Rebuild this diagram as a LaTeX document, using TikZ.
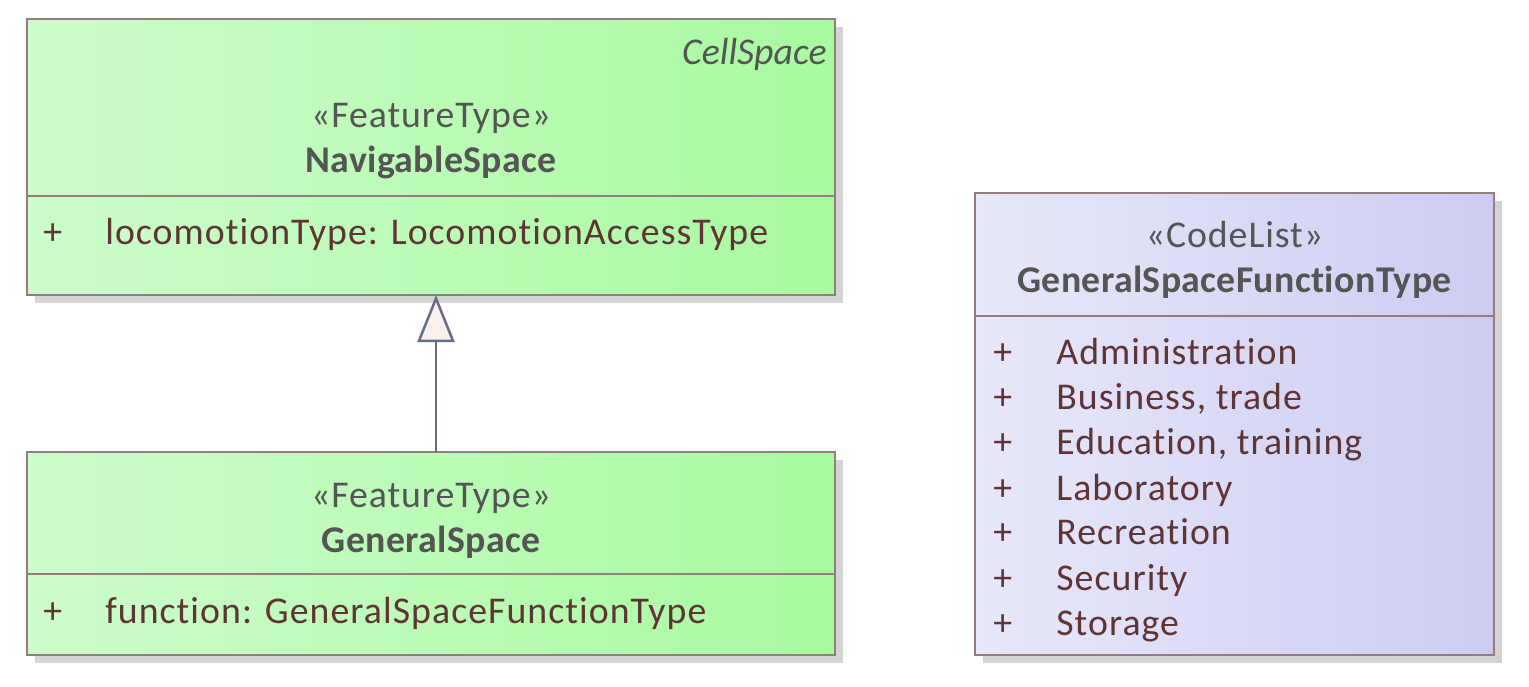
\documentclass[tikz,border=0pt]{standalone}
\usepackage{fontspec}
\setmainfont{Carlito}[Ligatures=NoCommon]
\usetikzlibrary{arrows.meta,shadows}

\begin{document}
\begin{tikzpicture}[x=0.2mm,y=-0.2mm,
  box/.style={draw=rahmen,line width=0.45mm,inner sep=0,outer sep=0,anchor=north west,
    drop shadow={shadow xshift=1.6mm,shadow yshift=-1.6mm,fill=schatten,opacity=1}},
  gruenbox/.style={box,left color=hellgruen,right color=gruen},
  lilabox/.style={box,left color=helllila,right color=lila},
  stereo/.style={text=titelgrau,anchor=base,inner sep=0,font=\fontsize{21.5}{25}\selectfont\addfontfeature{LetterSpace=2.5}},
  titel/.style={stereo,font=\fontsize{21.5}{25}\selectfont\bfseries\addfontfeature{LetterSpace=1}},
  attr/.style={text=attrbraun,anchor=base west,inner sep=0,font=\fontsize{21.5}{25}\selectfont\addfontfeature{LetterSpace=2.8}},
  trenn/.style={draw=rahmen,line width=0.45mm}]

\definecolor{hellgruen}{RGB}{206,252,204}
\definecolor{gruen}{RGB}{168,250,160}
\definecolor{helllila}{RGB}{232,232,250}
\definecolor{lila}{RGB}{204,204,242}
\definecolor{rahmen}{RGB}{150,125,125}
\definecolor{schatten}{RGB}{212,212,212}
\definecolor{titelgrau}{RGB}{85,85,85}
\definecolor{attrbraun}{RGB}{95,52,52}
\definecolor{pfeil}{RGB}{100,110,140}
\definecolor{spitze}{RGB}{250,240,235}

\useasboundingbox (0,0) rectangle (1529,687);

\node[gruenbox,minimum width=161.6mm,minimum height=55.2mm] (nav) at (27,19) {};
\node[gruenbox,minimum width=161.6mm,minimum height=40.6mm] (gen) at (27,452) {};
\node[lilabox,minimum width=103.8mm,minimum height=92.4mm] (code) at (975,193) {};

\draw[trenn] (nav.west |- 0,196) -- (nav.east |- 0,196);
\draw[trenn] (gen.west |- 0,574) -- (gen.east |- 0,574);
\draw[trenn] (code.west |- 0,316) -- (code.east |- 0,316);

\draw[pfeil,line width=0.5mm,-{Triangle[length=9.4mm,width=7.4mm,fill=spitze]}] ([xshift=1mm]gen.north) -- ([xshift=1mm]nav.south);

\node[stereo,anchor=base east,font=\fontsize{21.5}{25}\selectfont\itshape] (navabs) at (827,65) {CellSpace};
\node[stereo] (navst) at (nav.center |- 0,128) {«FeatureType»};
\node[titel] (navname) at (nav.center |- 0,173) {NavigableSpace};
\node[attr] (navplus) at (43,245) {+};
\node[attr] (navattr) at (105,245) {locomotionType: LocomotionAccessType};

\node[stereo] (genst) at (gen.center |- 0,508) {«FeatureType»};
\node[titel] (genname) at (gen.center |- 0,552) {GeneralSpace};
\node[attr] (genplus) at (43,623) {+};
\node[attr] (genattr) at (105,623) {function: GeneralSpaceFunctionType};

\node[stereo] (codest) at (code.center |- 0,248) {«CodeList»};
\node[titel] (codename) at (code.center |- 0,293) {GeneralSpaceFunctionType};
\foreach \wert [count=\i from 0] in {Administration,{Business, trade},{Education, training},Laboratory,Recreation,Security,Storage}
{
  \node[attr] (plus\i) at (993,365+45*\i) {+};
  \node[attr] (wert\i) at (1056,365+45*\i) {\wert};
}
\end{tikzpicture}
\end{document}
